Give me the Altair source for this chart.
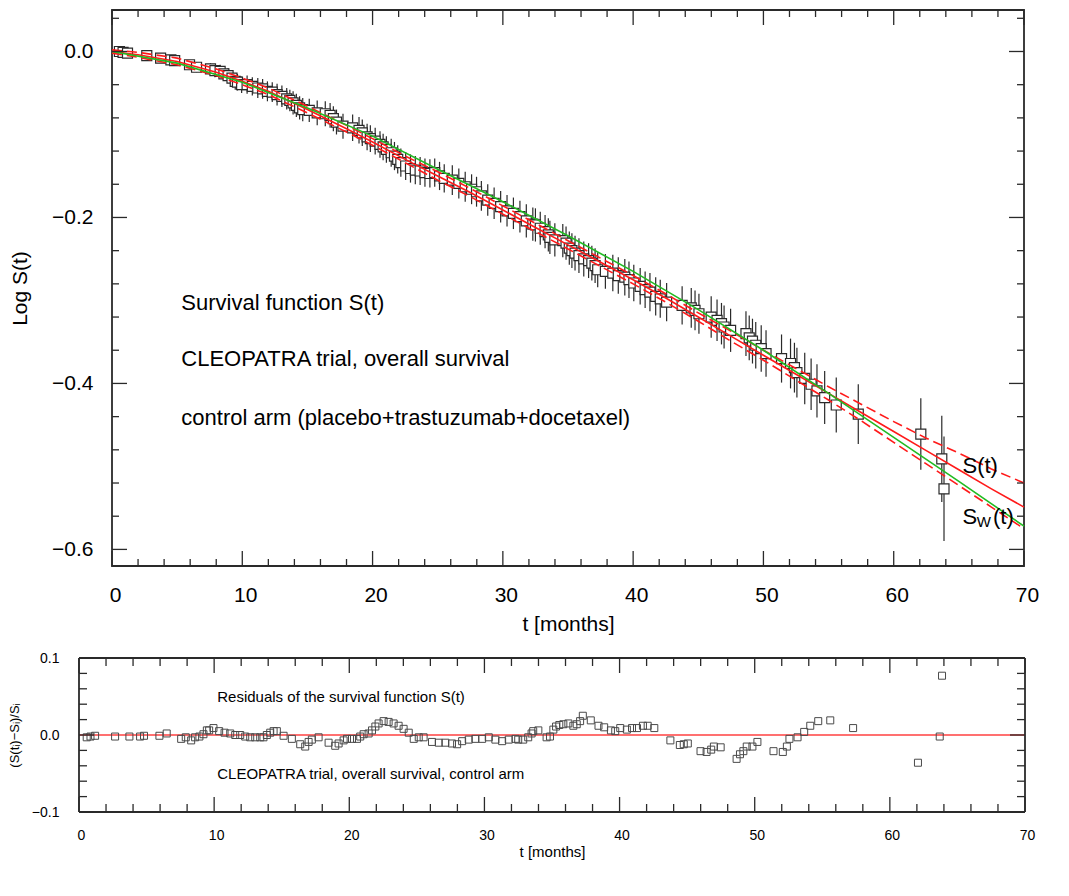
import altair as alt
import pandas as pd

# ---------------- data ----------------
t_obs = [0.57, 0.85, 1.19, 2.67, 3.73, 4.52, 4.81, 5.95, 6.49, 7.56, 7.90, 8.30, 8.59, 8.91, 9.21, 9.46, 9.63, 9.95,
         10.37, 10.77, 11.19, 11.56, 11.93, 12.30, 12.67, 13.04, 13.41, 13.65, 13.90, 14.15, 14.40, 14.64,
         15.14, 15.75, 16.37, 16.74, 16.99, 17.23, 17.73, 18.47, 18.96, 19.21, 19.58, 19.83,
         20.20, 20.57, 20.81, 21.06, 21.43, 21.68, 21.93, 22.17, 22.54, 22.91, 23.28, 23.65, 24.02, 24.40, 24.77,
         25.14, 25.50, 26.12, 26.62, 27.11, 27.60, 27.98, 28.35, 28.84, 29.33, 29.83, 30.32, 30.81, 31.31, 31.80, 32.30,
         32.50, 32.87, 33.24, 33.49, 33.61, 33.99, 34.60, 34.85, 35.10, 35.30, 35.54, 35.84, 36.21, 36.58, 36.83, 37.08,
         37.28, 37.87, 38.44, 38.86, 39.36, 39.68, 40.05, 40.54, 40.92, 41.29, 41.73, 42.08, 42.57,
         43.76, 44.46, 44.75, 45.05, 45.99, 46.44, 46.78, 46.98, 47.48, 48.66, 48.91, 49.16, 49.41, 49.83, 50.20,
         51.39, 52.08, 52.38, 52.57, 53.17, 53.66, 54.11, 54.70, 55.59, 57.28, 62.08, 63.69, 63.86]

log_s = [0.000, -0.001, -0.002, -0.005, -0.008, -0.010, -0.011, -0.016, -0.019, -0.021, -0.023, -0.024, -0.027, -0.029,
         -0.032, -0.036, -0.037, -0.040,
         -0.040, -0.042, -0.044, -0.045, -0.048, -0.049, -0.052, -0.054, -0.057, -0.059, -0.062, -0.065, -0.068, -0.070,
         -0.071, -0.074, -0.075, -0.077, -0.081, -0.085, -0.090, -0.092, -0.095, -0.098, -0.103, -0.105,
         -0.108, -0.112, -0.115, -0.118, -0.122, -0.126, -0.130, -0.134, -0.138, -0.141, -0.143, -0.144, -0.146, -0.147,
         -0.146,
         -0.150, -0.153, -0.155, -0.159, -0.163, -0.166, -0.169, -0.174, -0.179, -0.183, -0.187, -0.192, -0.195, -0.199,
         -0.204, -0.208,
         -0.209, -0.213, -0.217, -0.221, -0.224, -0.227, -0.228, -0.231, -0.237, -0.240, -0.243, -0.246, -0.250, -0.252,
         -0.255, -0.258, -0.263, -0.265, -0.267, -0.270, -0.272, -0.275, -0.279, -0.283, -0.287, -0.290, -0.295, -0.298,
         -0.302,
         -0.306, -0.309, -0.312, -0.316, -0.320, -0.324, -0.328, -0.332, -0.336, -0.340, -0.345, -0.349, -0.354, -0.358,
         -0.364, -0.370, -0.376, -0.381, -0.387, -0.394, -0.401, -0.409, -0.417, -0.426, -0.437, -0.461, -0.491, -0.527]

err = [0.002, 0.002, 0.002, 0.003, 0.004, 0.004, 0.004, 0.005, 0.006, 0.007, 0.008, 0.008, 0.008, 0.009, 0.009, 0.010,
       0.010, 0.010,
       0.011, 0.011, 0.012, 0.012, 0.012, 0.012, 0.013, 0.013, 0.013, 0.013, 0.014, 0.014, 0.014, 0.014,
       0.014, 0.015, 0.015, 0.015, 0.015, 0.015, 0.015, 0.016, 0.016, 0.016, 0.016, 0.016,
       0.016, 0.016, 0.016, 0.016, 0.017, 0.017, 0.017, 0.017, 0.017, 0.017, 0.017, 0.017, 0.017, 0.017, 0.017,
       0.017, 0.017, 0.018, 0.018, 0.018, 0.018, 0.018, 0.018, 0.019, 0.019, 0.019, 0.019, 0.019, 0.019, 0.020, 0.020,
       0.020, 0.020, 0.020, 0.020, 0.020, 0.020, 0.020, 0.020, 0.020, 0.021, 0.021, 0.021, 0.021, 0.021, 0.021, 0.021,
       0.021, 0.021, 0.022, 0.022, 0.022, 0.022, 0.022, 0.022, 0.022, 0.023, 0.023, 0.023, 0.023,
       0.023, 0.024, 0.024, 0.024, 0.025, 0.025, 0.025, 0.026, 0.026, 0.027, 0.027, 0.027, 0.028, 0.028, 0.028,
       0.029, 0.030, 0.030, 0.030, 0.031, 0.031, 0.032, 0.032, 0.033, 0.036, 0.043, 0.052, 0.063]

resid = [-0.003, -0.002, -0.001, -0.002, -0.002, -0.002, -0.001, -0.001, 0.002, -0.005, -0.003, -0.007, -0.003, -0.002,
         0.001, 0.006, 0.006, 0.009,
         0.005, 0.003, 0.002, 0.000, 0.000, -0.002, -0.003, -0.003, -0.003, -0.003, 0.000, 0.003, 0.005, 0.005,
         -0.001, -0.005, -0.012, -0.015, -0.009, -0.006, -0.003, -0.010, -0.014, -0.011, -0.007, -0.005,
         -0.005, -0.005, -0.002, 0.001, 0.002, 0.006, 0.011, 0.015, 0.018, 0.017, 0.015, 0.012, 0.008, 0.003, -0.005,
         -0.003, -0.003, -0.009, -0.010, -0.010, -0.011, -0.012, -0.008, -0.006, -0.005, -0.005, -0.003, -0.006, -0.008,
         -0.006, -0.005,
         -0.006, -0.006, -0.003, 0.002, 0.005, 0.006, -0.003, -0.002, 0.007, 0.011, 0.013, 0.014, 0.015, 0.012, 0.014,
         0.018, 0.025, 0.019, 0.012, 0.010, 0.006, 0.005, 0.009, 0.007, 0.009, 0.009, 0.012, 0.012, 0.009,
         -0.007, -0.013, -0.012, -0.011, -0.021, -0.022, -0.019, -0.015, -0.016, -0.031, -0.025, -0.021, -0.015, -0.015,
         -0.009, -0.021, -0.022, -0.015, -0.005, -0.003, 0.004, 0.012, 0.018, 0.019, 0.009, -0.036, -0.002, 0.077]

# fitted survival function S(t) with its band, and Weibull S_W(t)
fit_t = [0, 2, 5, 8, 10, 12, 15, 18, 20, 22.5, 25, 27.5, 30, 32.5, 35, 37.5, 40, 42.5, 45, 47.5, 50, 52.5, 55, 57.5,
         60, 62.5, 65, 67.5, 70]
fit_s = [0.000, -0.004, -0.012, -0.025, -0.036, -0.048, -0.070, -0.093, -0.109, -0.130, -0.150, -0.170, -0.191, -0.212,
         -0.233, -0.254, -0.275, -0.297, -0.320, -0.343, -0.366, -0.389, -0.412, -0.435, -0.458, -0.481, -0.504,
         -0.527, -0.549]
fit_hi = [0.002, -0.001, -0.008, -0.021, -0.032, -0.044, -0.066, -0.089, -0.105, -0.126, -0.145, -0.165, -0.186,
          -0.207, -0.228, -0.249, -0.270, -0.292, -0.315, -0.337, -0.360, -0.382, -0.404, -0.425, -0.446, -0.466,
          -0.484, -0.503, -0.520]
fit_lo = [-0.002, -0.007, -0.016, -0.029, -0.040, -0.052, -0.074, -0.097, -0.113, -0.134, -0.155, -0.175, -0.196,
          -0.217, -0.238, -0.259, -0.280, -0.302, -0.325, -0.349, -0.372, -0.396, -0.420, -0.445, -0.471, -0.497,
          -0.523, -0.549, -0.575]
weib_t = [0, 5, 10, 15, 20, 25, 30, 35, 40, 45, 50, 55, 60, 65, 70]
weib_s = [0.000, -0.014, -0.037, -0.068, -0.102, -0.142, -0.181, -0.222, -0.265, -0.311, -0.360, -0.412, -0.465,
          -0.518, -0.572]

top_notes = ["Survival function S(t)", "CLEOPATRA trial, overall survival",
             "control arm (placebo+trastuzumab+docetaxel)"]
top_note_t = [5.32, 5.32, 5.32]
top_note_v = [-0.303, -0.370, -0.442]
bot_notes = ["Residuals of the survival function S(t)", "CLEOPATRA trial, overall survival, control arm"]
bot_note_t = [10.23, 10.23]
bot_note_v = [0.0496, -0.0504]

top_x_major = [0, 10, 20, 30, 40, 50, 60, 70]
top_x_minor = [v for v in range(2, 70, 2) if v % 10]
top_y_major = [0.0, -0.2, -0.4, -0.6]
top_y_minor = [0.04, -0.04, -0.08, -0.12, -0.16, -0.24, -0.28, -0.32, -0.36, -0.44, -0.48, -0.52, -0.56]
bot_x_major = [0, 10, 20, 30, 40, 50, 60, 70]
bot_x_minor = top_x_minor
bot_y_major = [0.1, 0.0, -0.1]
bot_y_minor = [0.08, 0.06, 0.04, 0.02, -0.02, -0.04, -0.06, -0.08]

# ---------------- styling ----------------
TW, TH = 912, 556          # top plot area
SHIFT = 33                 # bottom panel starts this far left of the top panel
BW, BH = 946, 154          # bottom plot area
FONT = "Liberation Sans"
INK = "#2a2a2a"
RED = "#ff1a1a"
GREEN = "#22bb22"
FRAME_W = 1.8

obs = pd.DataFrame({"t": t_obs, "s": log_s, "e": err, "r": resid})
obs["lo"] = obs["s"] - obs["e"]
obs["hi"] = obs["s"] + obs["e"]
fit = pd.DataFrame({"t": fit_t, "s": fit_s, "hi": fit_hi, "lo": fit_lo})
weib = pd.DataFrame({"t": weib_t, "s": weib_s})

xs_t = alt.Scale(domain=[0, 70], nice=False, zero=False)
ys_t = alt.Scale(domain=[-0.62, 0.05], nice=False, zero=False)
xs_b = alt.Scale(domain=[0, 70], nice=False, zero=False, range=[-SHIFT, BW - SHIFT])
ys_b = alt.Scale(domain=[-0.1, 0.1], nice=False, zero=False)


def ax(**kw):
    base = dict(ticks=False, domain=False, grid=False, labelFont=FONT, titleFont=FONT, titleFontWeight="normal",
                labelColor="black", titleColor="black", labelFlush=False, labelOverlap=False, labelBound=False)
    base.update(kw)
    return alt.Axis(**base)


AX_TX = ax(values=top_x_major, format="d", title="t [months]", labelFontSize=21, titleFontSize=21,
           labelPadding=18, titlePadding=8, labelOffset=3)
AX_TY = ax(values=top_y_major, format=".1f", title="Log S(t)", labelFontSize=21, titleFontSize=21,
           labelPadding=19, titlePadding=21)
AX_BX = ax(values=bot_x_major, format="d", title="t [months]", labelFontSize=14, titleFontSize=15,
           labelPadding=16, titlePadding=2, labelOffset=2, titleX=(BW / 2 - SHIFT))
AX_BY = ax(values=bot_y_major, format=".1f", title="(S(tᵢ)−Sᵢ)/Sᵢ", labelFontSize=14, titleFontSize=13,
           labelPadding=20, titlePadding=10, offset=SHIFT)


def X(field, scale, axis):
    return alt.X(field, scale=scale, axis=axis)


def Y(field, scale, axis):
    return alt.Y(field, scale=scale, axis=axis)


def tick_layers(xmaj, xmin, ymaj, ymin, xs, ys, axx, axy, xl, xr, H, LM, Lm):
    out = []
    for vals, L in ((xmaj, LM), (xmin, Lm)):
        d = pd.DataFrame({"v": vals})
        b = alt.Chart(d).mark_rule(color=INK, strokeWidth=1.3)
        out.append(b.encode(x=X("v:Q", xs, axx), y=alt.value(H), y2=alt.value(H - L)))
        out.append(b.encode(x=X("v:Q", xs, axx), y=alt.value(0), y2=alt.value(L)))
    for vals, L in ((ymaj, LM), (ymin, Lm)):
        d = pd.DataFrame({"v": vals})
        b = alt.Chart(d).mark_rule(color=INK, strokeWidth=1.3)
        out.append(b.encode(y=Y("v:Q", ys, axy), x=alt.value(xl), x2=alt.value(xl + L)))
        out.append(b.encode(y=Y("v:Q", ys, axy), x=alt.value(xr), x2=alt.value(xr - L)))
    return out


# ---------------- top panel ----------------
bars = alt.Chart(obs).mark_rule(color=INK, strokeWidth=1.2).encode(
    x=X("t:Q", xs_t, AX_TX), y=Y("lo:Q", ys_t, AX_TY), y2="hi:Q")
squares = alt.Chart(obs).mark_point(shape="square", size=100, filled=False, fill="white", fillOpacity=1,
                                    stroke=INK, strokeWidth=1.2, opacity=1).encode(
    x=X("t:Q", xs_t, AX_TX), y=Y("s:Q", ys_t, AX_TY))
red_line = alt.Chart(fit).mark_line(color=RED, strokeWidth=1.6).encode(
    x=X("t:Q", xs_t, AX_TX), y=Y("s:Q", ys_t, AX_TY))
red_hi = alt.Chart(fit).mark_line(color=RED, strokeWidth=1.6, strokeDash=[10, 5]).encode(
    x=X("t:Q", xs_t, AX_TX), y=Y("hi:Q", ys_t, AX_TY))
red_lo = alt.Chart(fit).mark_line(color=RED, strokeWidth=1.6, strokeDash=[10, 5]).encode(
    x=X("t:Q", xs_t, AX_TX), y=Y("lo:Q", ys_t, AX_TY))
green_line = alt.Chart(weib).mark_line(color=GREEN, strokeWidth=1.6).encode(
    x=X("t:Q", xs_t, AX_TX), y=Y("s:Q", ys_t, AX_TY))

notes_df = pd.DataFrame({"t": top_note_t, "v": top_note_v, "label": top_notes})
notes = alt.Chart(notes_df).mark_text(align="left", baseline="middle", font=FONT, fontSize=22, color="black").encode(
    x=X("t:Q", xs_t, AX_TX), y=Y("v:Q", ys_t, AX_TY), text="label:N")

curve_lab = pd.DataFrame({"t": [65.28, 65.28, 66.37, 67.62], "v": [-0.499, -0.561, -0.567, -0.561],
                          "label": ["S(t)", "S", "W", "(t)"], "fs": [22, 22, 15, 22]})
curve_text = alt.Chart(curve_lab).mark_text(align="left", baseline="middle", font=FONT, color="black").encode(
    x=X("t:Q", xs_t, AX_TX), y=Y("v:Q", ys_t, AX_TY), text="label:N",
    size=alt.Size("fs:Q", scale=None, legend=None))

top = alt.layer(bars, squares, red_hi, red_lo, red_line, green_line, notes, curve_text,
                *tick_layers(top_x_major, top_x_minor, top_y_major, top_y_minor, xs_t, ys_t, AX_TX, AX_TY,
                             0, TW, TH, 15, 7)
                ).properties(width=TW, height=TH, view=alt.ViewBackground(stroke=INK, strokeWidth=FRAME_W))

# ---------------- bottom panel ----------------
frame_h = pd.DataFrame({"x0": [0, 0], "x1": [70, 70], "y": [0.1, -0.1]})
frame_v = pd.DataFrame({"x": [0, 70], "y0": [-0.1, -0.1], "y1": [0.1, 0.1]})
frame_a = alt.Chart(frame_h).mark_rule(color=INK, strokeWidth=FRAME_W).encode(
    x=X("x0:Q", xs_b, AX_BX), x2="x1:Q", y=Y("y:Q", ys_b, AX_BY))
frame_b = alt.Chart(frame_v).mark_rule(color=INK, strokeWidth=FRAME_W).encode(
    x=X("x:Q", xs_b, AX_BX), y=Y("y0:Q", ys_b, AX_BY), y2="y1:Q")
zero_df = pd.DataFrame({"x0": [0], "x1": [70], "z": [0.0]})
zero_line = alt.Chart(zero_df).mark_rule(color="#ff4040", strokeWidth=1.5).encode(
    x=X("x0:Q", xs_b, AX_BX), x2="x1:Q", y=Y("z:Q", ys_b, AX_BY))
res_pts = alt.Chart(obs).mark_point(shape="square", size=49, filled=False, stroke="#4a4a4a", strokeWidth=1,
                                    opacity=1).encode(
    x=X("t:Q", xs_b, AX_BX), y=Y("r:Q", ys_b, AX_BY))
bnotes_df = pd.DataFrame({"t": bot_note_t, "v": bot_note_v, "label": bot_notes})
bnotes = alt.Chart(bnotes_df).mark_text(align="left", baseline="middle", font=FONT, fontSize=15,
                                        color="black").encode(
    x=X("t:Q", xs_b, AX_BX), y=Y("v:Q", ys_b, AX_BY), text="label:N")

bottom = alt.layer(zero_line, res_pts, bnotes, frame_a, frame_b,
                   *tick_layers(bot_x_major, bot_x_minor, bot_y_major, bot_y_minor, xs_b, ys_b, AX_BX, AX_BY,
                                -SHIFT, BW - SHIFT, BH, 15, 8)
                   ).properties(width=BW - SHIFT, height=BH,
                                view=alt.ViewBackground(stroke="transparent", strokeWidth=0))

chart = alt.vconcat(top, bottom, spacing=16).properties(
    padding={"left": 0, "top": 0, "right": 0, "bottom": 6}
).configure(font=FONT)

chart.save("out.html", embed_options={"renderer": "svg", "actions": False})
